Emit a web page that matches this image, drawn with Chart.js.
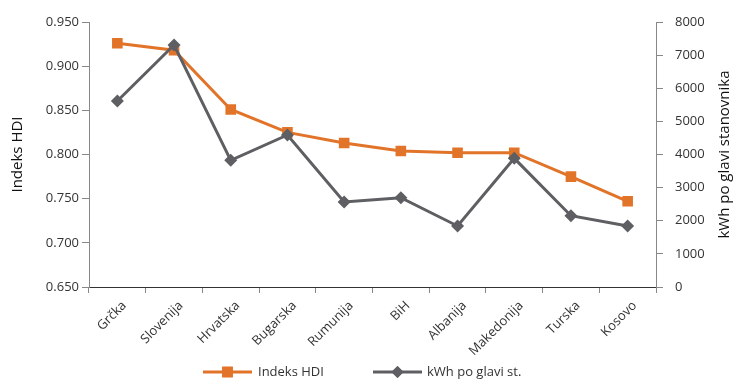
<!DOCTYPE html>
<html>
<head>
<meta charset="utf-8">
<script src="https://cdn.jsdelivr.net/npm/chart.js@4"></script>
<style>
  html, body { margin: 0; padding: 0; background: #fff; }
  #wrap { width: 735px; height: 379px; position: relative; }
</style>
</head>
<body>
<div id="wrap"><canvas id="c" width="735" height="379"></canvas></div>
<script>
const categories = ['Grčka', 'Slovenija', 'Hrvatska', 'Bugarska', 'Rumunija', 'BiH', 'Albanija', 'Makedonija', 'Turska', 'Kosovo'];
const hdiValues = [0.926, 0.918, 0.851, 0.825, 0.813, 0.804, 0.802, 0.802, 0.775, 0.747];
const kwhValues = [5615, 7306, 3825, 4589, 2566, 2697, 1842, 3884, 2153, 1842];
const seriesNames = ['Indeks HDI', 'kWh po glavi st.'];
const leftTitle = 'Indeks HDI';
const rightTitle = 'kWh po glavi stanovnika';

const ORANGE = '#E2742A';
const GRAY = '#5E5F63';
const FONT = "'Open Sans', 'Noto Sans', sans-serif";

const decorPlugin = {
  id: 'decor',
  afterDraw(chart) {
    const ctx = chart.ctx;
    const area = chart.chartArea;
    const midY = (area.top + area.bottom) / 2;
    ctx.save();
    ctx.fillStyle = '#111';
    ctx.font = '15px ' + FONT;
    ctx.textAlign = 'center';
    ctx.textBaseline = 'middle';
    [[18, leftTitle], [725, rightTitle]].forEach(([x, t]) => {
      ctx.save();
      ctx.translate(x, midY);
      ctx.rotate(-Math.PI / 2);
      ctx.fillText(t, 0, 0);
      ctx.restore();
    });
    const y = 372;
    const items = [
      { x0: 203, x1: 252, color: ORANGE, style: 'rect', r: 7.5, label: seriesNames[0], tx: 258 },
      { x0: 373, x1: 422, color: GRAY, style: 'rectRot', r: 6, label: seriesNames[1], tx: 427 }
    ];
    items.forEach(it => {
      ctx.strokeStyle = it.color;
      ctx.lineWidth = 3;
      ctx.beginPath();
      ctx.moveTo(it.x0, y);
      ctx.lineTo(it.x1, y);
      ctx.stroke();
      ctx.fillStyle = it.color;
      Chart.helpers.drawPoint(ctx, { pointStyle: it.style, radius: it.r, borderWidth: 0 }, (it.x0 + it.x1) / 2, y);
      ctx.fill();
      ctx.fillStyle = '#333';
      ctx.font = '13px ' + FONT;
      ctx.textBaseline = 'middle';
      ctx.textAlign = 'left';
      ctx.fillText(it.label, it.tx, y);
    });
    ctx.restore();
  }
};

new Chart(document.getElementById('c'), {
  type: 'line',
  data: {
    labels: categories,
    datasets: [
      {
        label: seriesNames[0],
        data: hdiValues,
        yAxisID: 'y',
        borderColor: ORANGE,
        backgroundColor: ORANGE,
        borderWidth: 3,
        pointStyle: 'rect',
        pointRadius: 7.5,
        pointHoverRadius: 7.5,
        pointBorderWidth: 0,
        tension: 0,
        order: 2
      },
      {
        label: seriesNames[1],
        data: kwhValues,
        yAxisID: 'y1',
        borderColor: GRAY,
        backgroundColor: GRAY,
        borderWidth: 3,
        pointStyle: 'rectRot',
        pointRadius: 6.5,
        pointHoverRadius: 6.5,
        pointBorderWidth: 0,
        tension: 0,
        order: 1
      }
    ]
  },
  options: {
    responsive: false,
    animation: false,
    layout: { padding: { top: 22, bottom: 0, left: 0, right: 0 } },
    plugins: { legend: { display: false }, tooltip: { enabled: false } },
    scales: {
      x: {
        offset: true,
        grid: { display: true, drawOnChartArea: false, drawTicks: true, tickLength: 6, color: '#888', offset: true },
        border: { display: true, color: '#333', width: 1 },
        ticks: { color: '#333', font: { family: FONT, size: 13 }, maxRotation: 45, minRotation: 45, padding: 5, labelOffset: 7 },
        afterFit(s) { s.height = 92; }
      },
      y: {
        position: 'left',
        min: 0.65, max: 0.95,
        grid: { display: true, drawOnChartArea: false, drawTicks: true, tickLength: 7, color: '#888' },
        border: { display: true, color: '#888', width: 1 },
        ticks: { stepSize: 0.05, color: '#333', font: { family: FONT, size: 13 }, padding: 3,
                 callback: v => v.toFixed(3) },
        afterFit(s) { s.width = 89; }
      },
      y1: {
        position: 'right',
        min: 0, max: 8000,
        grid: { display: true, drawOnChartArea: false, drawTicks: true, tickLength: 7, color: '#888' },
        border: { display: true, color: '#888', width: 1 },
        ticks: { stepSize: 1000, color: '#333', font: { family: FONT, size: 13 }, padding: 12,
                 callback: v => String(v) },
        afterFit(s) { s.width = 79; }
      }
    }
  },
  plugins: [decorPlugin]
});
</script>
</body>
</html>
